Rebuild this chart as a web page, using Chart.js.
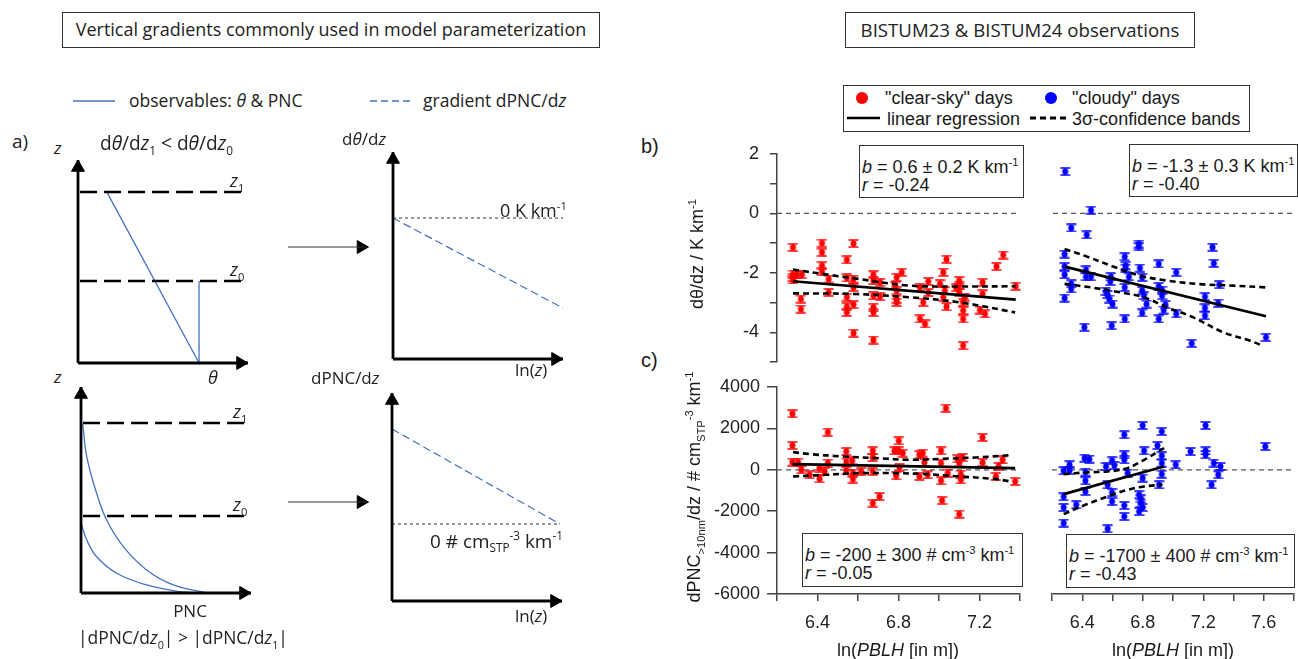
<!DOCTYPE html>
<html><head><meta charset="utf-8">
<script src="https://cdn.jsdelivr.net/npm/chart.js@4.4.1/dist/chart.umd.min.js"></script>
<style>
html,body{margin:0;padding:0;background:#fff;}
body{width:1298px;height:659px;position:relative;overflow:hidden;font-family:'Liberation Sans',Arial,sans-serif;color:#1a1a1a;}
.t{position:absolute;white-space:nowrap;line-height:1;}
.l{transform:translate(0,-50%);}
.c{transform:translate(-50%,-50%);}
.cal{font-family:'Open Sans',sans-serif;color:#222;}
.box{position:absolute;border:1.5px solid #333;background:#fff;box-sizing:border-box;}
sub,sup{font-size:0.62em;line-height:0;}
.rot{transform:translate(-50%,-50%) rotate(-90deg);}
</style></head><body>
<div id="charts"></div>

<!-- titles -->
<div class="box" style="left:62px;top:12px;width:538px;height:36px;border-width:1px"></div>
<div class="t c cal" data-fit="511" style="left:331px;top:30px;font-size:16.5px">Vertical gradients commonly used in model parameterization</div>
<div class="box" style="left:845px;top:12px;width:350px;height:36px;border-width:1px"></div>
<div class="t c cal" data-fit="319" style="left:1020px;top:30px;font-size:16.5px">BISTUM23 &amp; BISTUM24 observations</div>

<!-- left legend -->
<div class="t l cal" style="left:129px;top:101px;font-size:17.5px">observables: <i>θ</i> &amp; PNC</div>
<div class="t l cal" style="left:423px;top:101px;font-size:17.5px">gradient dPNC/d<i>z</i></div>

<!-- panel a texts -->
<div class="t l cal" style="left:12px;top:141px;font-size:19px">a)</div>
<div class="t l cal" style="left:54px;top:147px;font-size:17px"><i>z</i></div>
<div class="t l cal" data-fit="133" style="left:100px;top:144px;font-size:16px">d<i>θ</i>/d<i>z</i><sub>1</sub> &lt; d<i>θ</i>/d<i>z</i><sub>0</sub></div>
<div class="t l cal" style="left:230px;top:180px;font-size:18px"><i>z</i><sub>1</sub></div>
<div class="t l cal" style="left:230px;top:269px;font-size:18px"><i>z</i><sub>0</sub></div>
<div class="t c cal" style="left:213px;top:377px;font-size:18px"><i>θ</i></div>
<div class="t l cal" style="left:54px;top:376px;font-size:17px"><i>z</i></div>
<div class="t c cal" style="left:364px;top:138px;font-size:17px">d<i>θ</i>/d<i>z</i></div>
<div class="t l cal" style="left:500px;top:210px;font-size:18px">0 K km<sup>-1</sup></div>
<div class="t l cal" style="left:515px;top:369px;font-size:17px">ln(<i>z</i>)</div>
<div class="t l cal" style="left:311px;top:377px;font-size:17px">dPNC/d<i>z</i></div>
<div class="t l cal" style="left:233px;top:411px;font-size:18px"><i>z</i><sub>1</sub></div>
<div class="t l cal" style="left:233px;top:504px;font-size:18px"><i>z</i><sub>0</sub></div>
<div class="t c cal" style="left:190px;top:610px;font-size:17px">PNC</div>
<div class="t l cal" data-fit="210" style="left:78px;top:638px;font-size:17px">|dPNC/d<i>z</i><sub>0</sub>| &gt; |dPNC/d<i>z</i><sub>1</sub>|</div>
<div class="t l cal" data-fit="133" style="left:430px;top:541px;font-size:16px">0 # cm<sub>STP</sub><sup>-3</sup> km<sup>-1</sup></div>
<div class="t l cal" style="left:515px;top:615px;font-size:17px">ln(<i>z</i>)</div>

<!-- right side texts -->
<div class="box" style="left:843px;top:85px;width:407px;height:47px"></div>
<div style="position:absolute;left:856px;top:92px;width:12px;height:12px;border-radius:50%;background:#f00"></div>
<div class="t l" style="left:885px;top:98px;font-size:18px">"clear-sky" days</div>
<div style="position:absolute;left:1045px;top:92px;width:12px;height:12px;border-radius:50%;background:#00f"></div>
<div class="t l" style="left:1072px;top:98px;font-size:18px">"cloudy" days</div>
<div class="t l" style="left:887px;top:119px;font-size:18px">linear regression</div>
<div class="t l" style="left:1072px;top:119px;font-size:18px">3σ-confidence bands</div>

<div class="t l" style="left:641px;top:146px;font-size:20px">b)</div>
<div class="t l" style="left:641px;top:360px;font-size:20px">c)</div>

<div class="t rot" style="left:697px;top:254px;font-size:18px">dθ/dz / K km<sup>-1</sup></div>
<div class="t rot" style="left:694px;top:487px;font-size:18px">dPNC<sub>&gt;10nm</sub>/dz / # cm<sub>STP</sub><sup>-3</sup> km<sup>-1</sup></div>

<div class="t c" style="left:898px;top:650px;font-size:18px">ln(<i>PBLH</i> [in m])</div>
<div class="t c" style="left:1173px;top:650px;font-size:18px">ln(<i>PBLH</i> [in m])</div>

<div class="box" style="left:859px;top:145px;width:165px;height:53px"></div>
<div class="t l" style="left:862px;top:167px;font-size:18px"><i>b</i> = 0.6 ± 0.2 K km<sup>-1</sup></div>
<div class="t l" style="left:862px;top:185px;font-size:18px"><i>r</i> = -0.24</div>

<div class="box" style="left:1129px;top:144px;width:169px;height:53px"></div>
<div class="t l" style="left:1132px;top:166px;font-size:18px"><i>b</i> = -1.3 ± 0.3 K km<sup>-1</sup></div>
<div class="t l" style="left:1132px;top:184px;font-size:18px"><i>r</i> = -0.40</div>

<div class="box" style="left:802px;top:533px;width:221px;height:54px"></div>
<div class="t l" style="left:805px;top:555px;font-size:18px"><i>b</i> = -200 ± 300 # cm<sup>-3</sup> km<sup>-1</sup></div>
<div class="t l" style="left:805px;top:573px;font-size:18px"><i>r</i> = -0.05</div>

<div class="box" style="left:1066px;top:534px;width:229px;height:54px"></div>
<div class="t l" style="left:1069px;top:556px;font-size:18px"><i>b</i> = -1700 ± 400 # cm<sup>-3</sup> km<sup>-1</sup></div>
<div class="t l" style="left:1069px;top:574px;font-size:18px"><i>r</i> = -0.43</div>

<svg style="position:absolute;left:0;top:0" width="1298" height="659">
  <line x1="73" y1="101" x2="115" y2="101" stroke="#4472C4" stroke-width="1.3"/>
  <line x1="370" y1="101" x2="410" y2="101" stroke="#4472C4" stroke-width="1.3" stroke-dasharray="7 4"/>
  <line x1="847" y1="118" x2="880" y2="118" stroke="#000" stroke-width="2.6"/>
  <line x1="1030" y1="118" x2="1066" y2="118" stroke="#000" stroke-width="3" stroke-dasharray="6 4"/>
</svg>

<script>
// ================= DATA =================
// b) dθ/dz vs ln(PBLH)  [x = ln(PBLH), y = K km^-1]
const bClear = [[6.279,-1.14],[6.279,-2.04],[6.279,-2.15],[6.279,-2.24],[6.299,-2.06],[6.323,-2.06],[6.318,-2.88],[6.318,-3.22],
 [6.422,-1.00],[6.422,-1.31],[6.422,-1.76],[6.422,-1.95],[6.455,-2.21],[6.455,-2.66],[6.545,-1.56],[6.545,-2.17],[6.545,-2.82],
 [6.545,-3.14],[6.545,-3.33],[6.578,-1.01],[6.578,-2.21],[6.578,-2.49],[6.578,-3.07],[6.578,-4.03],[6.676,-2.07],[6.676,-2.26],
 [6.676,-2.77],[6.676,-3.16],[6.676,-3.33],[6.676,-4.26],[6.709,-2.32],[6.709,-2.80],[6.791,-2.15],[6.816,-1.98],[6.791,-2.60],
 [6.791,-2.88],[6.791,-2.99],[6.783,-2.43],[6.906,-2.49],[6.906,-3.55],[6.931,-3.72],[6.922,-2.99],[6.947,-2.29],[6.947,-2.66],
 [7.005,-2.37],[7.021,-1.98],[7.037,-1.54],[7.021,-2.82],[7.029,-2.60],[7.037,-3.14],[7.100,-2.26],[7.100,-2.43],[7.100,-2.66],
 [7.119,-2.99],[7.119,-3.27],[7.119,-3.55],[7.119,-4.45],[7.127,-2.82],[7.215,-2.32],[7.215,-2.71],[7.202,-3.25],[7.227,-3.38],
 [7.284,-1.79],[7.317,-1.40],[7.379,-2.45],[7.084,-2.49]];
const bCloudy = [[6.281,1.41],[6.452,0.11],[6.321,-0.49],[6.424,-0.72],[6.277,-1.37],[6.277,-1.79],[6.277,-2.06],[6.277,-2.85],
 [6.321,-2.37],[6.321,-2.54],[6.419,-1.90],[6.419,-2.13],[6.452,-2.13],[6.408,-3.83],[6.584,-2.13],[6.580,-2.29],[6.551,-2.62],
 [6.562,-2.73],[6.573,-2.88],[6.595,-3.05],[6.590,-3.78],[6.676,-1.46],[6.682,-1.76],[6.682,-1.84],[6.676,-2.49],[6.676,-3.55],
 [6.704,-2.13],[6.770,-1.03],[6.770,-1.12],[6.777,-1.84],[6.792,-2.15],[6.792,-2.60],[6.803,-2.77],[6.821,-3.05],[6.792,-3.35],
 [6.902,-1.70],[6.902,-2.46],[6.924,-2.58],[6.924,-2.77],[6.946,-3.07],[6.935,-3.25],[6.902,-3.55],[7.018,-1.98],[7.018,-3.38],
 [7.209,-2.80],[7.209,-3.18],[7.209,-3.44],[7.259,-1.14],[7.268,-1.68],[7.303,-2.40],[7.296,-3.02],[7.121,-4.37],[7.614,-4.17]];
const bClearFit = [[6.279,-2.285],[7.379,-2.90]];
const bClearUp  = [[6.279,-1.89],[6.45,-2.06],[6.578,-2.18],[6.854,-2.43],[7.1,-2.46],[7.379,-2.45]];
const bClearLo  = [[6.279,-2.69],[6.578,-2.71],[6.854,-2.82],[7.1,-2.99],[7.376,-3.33]];
const bCloudyFit = [[6.277,-1.79],[7.614,-3.46]];
const bCloudyUp  = [[6.277,-1.20],[6.408,-1.42],[6.628,-1.84],[6.781,-2.10],[6.957,-2.26],[7.176,-2.38],[7.395,-2.43],[7.614,-2.49]];
const bCloudyLo  = [[6.277,-2.37],[6.452,-2.49],[6.650,-2.66],[6.803,-2.82],[6.957,-3.16],[7.132,-3.50],[7.329,-4.00],[7.505,-4.28],[7.592,-4.45]];

// c) dPNC/dz vs ln(PBLH)  [y = # cm^-3 km^-1]
const cClear = [[6.276,2705],[6.276,1176],[6.276,371],[6.304,371],[6.320,0],[6.410,81],[6.410,-434],[6.451,1820],[6.451,323],
 [6.435,-80],[6.542,886],[6.542,371],[6.542,-48],[6.571,435],[6.575,-160],[6.575,-450],[6.673,918],[6.673,596],[6.673,-80],
 [6.673,-1610],[6.706,-1288],[6.780,918],[6.801,1402],[6.801,918],[6.821,805],[6.788,-289],[6.805,113],[6.903,725],[6.920,805],
 [6.903,-321],[6.928,355],[6.944,-241],[7.010,918],[7.034,2979],[7.010,323],[7.010,-530],[7.015,-1481],[7.043,-160],[7.092,532],
 [7.100,-2141],[7.100,323],[7.108,-209],[7.108,-482],[7.117,596],[7.215,1562],[7.215,355],[7.281,-321],[7.314,484],[7.294,161],
 [7.376,-563],[6.361,-241],[6.616,-80]];
const cCloudy = [[6.277,-2576],[6.277,-1819],[6.277,-1304],[6.277,-48],[6.316,242],[6.360,-1690],[6.415,564],[6.447,516],
 [6.421,-112],[6.421,-530],[6.421,-1046],[6.557,161],[6.568,-724],[6.568,-2849],[6.597,435],[6.597,-1529],[6.612,210],[6.678,1691],
 [6.678,725],[6.678,484],[6.678,-1722],[6.678,-2254],[6.700,-160],[6.799,2142],[6.809,918],[6.799,-402],[6.776,-1207],[6.788,-1400],
 [6.788,-1610],[6.776,-2012],[6.799,-1819],[6.897,1176],[6.926,1852],[6.926,677],[6.926,323],[6.926,-209],[6.908,-724],[7.018,242],
 [7.116,886],[7.215,2142],[7.215,918],[7.215,725],[7.270,323],[7.314,161],[7.299,-241],[7.255,-724],[7.610,1128],[6.597,-1100],[6.316,-32]];
const cClearFit = [[6.276,274],[7.376,81]];
const cClearUp  = [[6.279,854],[6.361,757],[6.525,645],[6.690,564],[6.854,484],[7.018,532],[7.182,596],[7.355,709]];
const cClearLo  = [[6.279,-322],[6.443,-241],[6.607,-161],[6.772,-161],[6.936,-209],[7.100,-322],[7.264,-434],[7.355,-563]];
const cCloudyFit = [[6.277,-1175],[6.941,161]];
const cCloudyUp  = [[6.277,-209],[6.421,-128],[6.568,-80],[6.700,81],[6.809,484],[6.941,1047]];
const cCloudyLo  = [[6.277,-2141],[6.421,-1690],[6.568,-1288],[6.700,-966],[6.809,-805],[6.930,-724]];

// axis ranges / ticks
const xRangeClear = [6.2, 7.4], xRangeCloudy = [6.2, 7.8], xStep = 0.2;
const yRangeB = [-5, 2], yStepB = 1;
const yRangeC = [-6000, 4000], yStepC = 2000;

// schematic (panel a), units = fraction of axis length
const levelsA1 = [0.842, 0.404];             // z1, z0
const thetaProfile = [[0.17,0.842],[0.712,0],[0.712,0.404]];
const gradZeroA2 = 0.681, gradThetaA2 = [[0,0.681],[1,0.246]];
const levelsA3 = [0.825, 0.374];
const pncCurve1 = [[0.01,0.823],[0.034,0.661],[0.092,0.484],[0.151,0.354],[0.249,0.225],[0.386,0.112],[0.543,0.039],[0.74,0]];
const pncCurve2 = [[0.004,0.33],[0.034,0.257],[0.092,0.176],[0.21,0.096],[0.386,0.039],[0.582,0.006],[0.7,0]];
const gradZeroA4 = 0.37, gradPncA4 = [[0,0.827],[0.988,0.37]];
const arrowA2 = [[-0.618,0.541],[-0.153,0.541]];
const arrowA4 = [[-0.612,0.476],[-0.147,0.476]];

// ================= RENDER =================
const P = a => a.map(p => ({x:p[0], y:p[1]}));
const BLUE = '#4472C4';
function glyph(color){
  const c = document.createElement('canvas'); c.width = 11; c.height = 9;
  const g = c.getContext('2d'); g.strokeStyle = color; g.fillStyle = color; g.lineWidth = 1.6;
  g.beginPath(); g.moveTo(0.5,1); g.lineTo(10.5,1); g.moveTo(0.5,8); g.lineTo(10.5,8); g.moveTo(5.5,1); g.lineTo(5.5,8); g.stroke();
  g.beginPath(); g.arc(5.5,4.5,3,0,Math.PI*2); g.fill();
  return c;
}
const redG = glyph('#ff0000'), blueG = glyph('#0000ff');

function line(data, color, width, dash, extra){
  return Object.assign({data:P(data), showLine:true, borderColor:color, borderWidth:width, borderDash:dash||[],
    pointRadius:0, fill:false, clip:false, tension:0}, extra||{});
}
function pts(data, g){ return {data:P(data), showLine:false, pointStyle:g, pointRadius:5, clip:false}; }
function head(x, y, rot){
  return {data:[{x, y}], showLine:false, pointStyle:'triangle', pointRadius:7.5, pointRotation:rot,
    pointBackgroundColor:'#000', pointBorderColor:'#000', pointBorderWidth:1, clip:false};
}

function mk(left, top, w, h, padding, scales, datasets){
  const c = document.createElement('canvas');
  c.width = w; c.height = h;
  c.style.cssText = 'position:absolute;left:'+left+'px;top:'+top+'px;width:'+w+'px;height:'+h+'px';
  document.getElementById('charts').appendChild(c);
  return new Chart(c, {type:'scatter', data:{datasets},
    options:{responsive:false, animation:false, events:[], layout:{padding},
      plugins:{legend:{display:false}, tooltip:{enabled:false}}, scales}});
}

const AX = '#444';
const tickFont = {family:"'Liberation Sans', Arial, sans-serif", size:18};
function yAxis(range, step, tl, pad, labelFn){
  return {type:'linear', min:range[0], max:range[1], position:'left',
    afterFit: s => { s.width = 77; s.paddingTop = 0; s.paddingBottom = 0; },
    grid:{drawOnChartArea:false, drawTicks:true, tickLength:tl, color:AX, lineWidth:1.5},
    border:{display:true, color:AX, width:1.5},
    ticks:{stepSize:step, autoSkip:false, padding:pad, color:'#222', font:tickFont, callback:labelFn}};
}
function xAxis(range){
  return {type:'linear', min:range[0], max:range[1], position:'bottom',
    afterFit: s => { s.height = 65; s.paddingLeft = 0; s.paddingRight = 0; },
    grid:{drawOnChartArea:false, drawTicks:true, tickLength:7, color:AX, lineWidth:1.5},
    border:{display:true, color:AX, width:1.5},
    ticks:{stepSize:xStep, autoSkip:false, maxRotation:0, padding:11, color:'#222', font:tickFont,
      callback: v => { const k = Math.round(v*10); return k % 4 === 0 ? (k/10).toFixed(1) : ''; }}};
}
const hid = r => ({type:'linear', min:r[0], max:r[1], display:false});
const zero = r => line([[r[0],0],[r[1],0]], '#555', 1.2, [5,4]);
const band = d => line(d, '#000', 2.6, [6,4], {tension:0.35});
const fit = d => line(d, '#000', 2.6);

// b-left
mk(700, 144, 330, 225, {left:0,right:10,top:10,bottom:7},
  {x:hid(xRangeClear), y:yAxis(yRangeB, yStepB, 7, 11, v => (v % 2 === 0 ? String(v) : ''))},
  [fit(bClearFit), band(bClearUp), band(bClearLo), pts(bClear, redG), zero(xRangeClear)]);
// b-right
mk(1047, 144, 253, 225, {left:5,right:5,top:10,bottom:7},
  {x:hid(xRangeCloudy), y:hid(yRangeB)},
  [fit(bCloudyFit), band(bCloudyUp), band(bCloudyLo), pts(bCloudy, blueG), zero(xRangeCloudy)]);
// c-left
mk(700, 377, 330, 282, {left:0,right:10,top:10,bottom:0},
  {x:xAxis(xRangeClear), y:yAxis(yRangeC, yStepC, 10, 7, v => String(v))},
  [fit(cClearFit), band(cClearUp), band(cClearLo), pts(cClear, redG), zero(xRangeClear)]);
// c-right
mk(1042, 377, 258, 282, {left:10,right:5,top:10,bottom:0},
  {x:xAxis(xRangeCloudy), y:hid(yRangeC)},
  [fit(cCloudyFit), band(cCloudyUp), band(cCloudyLo), pts(cCloudy, blueG), zero(xRangeCloudy)]);

// schematic panels
function axesDs(w, h){
  return [line([[0,0],[0,1]], '#000', 2.8), line([[0,0],[1,0]], '#000', 2.8),
    head(0, 1 - 7.5/h, 0), head(1 - 7.5/w, 0, 90)];
}
const unit = {x:hid([0,1]), y:hid([0,1])};
const zdash = [17,7];
// a1
mk(68, 150, 190, 223, 10, unit, [...axesDs(170,203),
  line([[0.012,levelsA1[0]],[1,levelsA1[0]]], '#000', 2.5, zdash),
  line([[0.012,levelsA1[1]],[1,levelsA1[1]]], '#000', 2.5, zdash),
  line(thetaProfile, BLUE, 1.3)]);
// a2
mk(273, 142, 300, 227, 10, {x:hid([-110/170,1]), y:hid([0,1])}, [...axesDs(170,207),
  line([[0,gradZeroA2],[1,gradZeroA2]], '#555', 1.2, [3,3]),
  line(gradThetaA2, BLUE, 1.2, [8,4]),
  line(arrowA2, '#333', 1.2), head(arrowA2[1][0] - 6/170, arrowA2[1][1], 90)]);
// a3
mk(71, 377, 190, 226, 10, unit, [...axesDs(170,206),
  line([[0.012,levelsA3[0]],[1,levelsA3[0]]], '#000', 2.5, zdash),
  line([[0.012,levelsA3[1]],[1,levelsA3[1]]], '#000', 2.5, zdash),
  line(pncCurve1, BLUE, 1.3, [], {tension:0.4}),
  line(pncCurve2, BLUE, 1.3, [], {tension:0.4})]);
// a4
mk(272, 383, 300, 228, 10, {x:hid([-110/170,1]), y:hid([0,1])}, [...axesDs(170,208),
  line([[0,gradZeroA4],[gradPncA4[1][0],gradZeroA4]], '#555', 1.2, [3,3]),
  line(gradPncA4, BLUE, 1.2, [8,4]),
  line(arrowA4, '#333', 1.2), head(arrowA4[1][0] - 6/170, arrowA4[1][1], 90)]);

// fit some text widths to the reference
document.querySelectorAll('[data-fit]').forEach(el => {
  const target = +el.dataset.fit, w = el.getBoundingClientRect().width;
  const fs = parseFloat(getComputedStyle(el).fontSize);
  if (w > 0) el.style.fontSize = (fs * target / w).toFixed(2) + 'px';
});
</script>
</body></html>
